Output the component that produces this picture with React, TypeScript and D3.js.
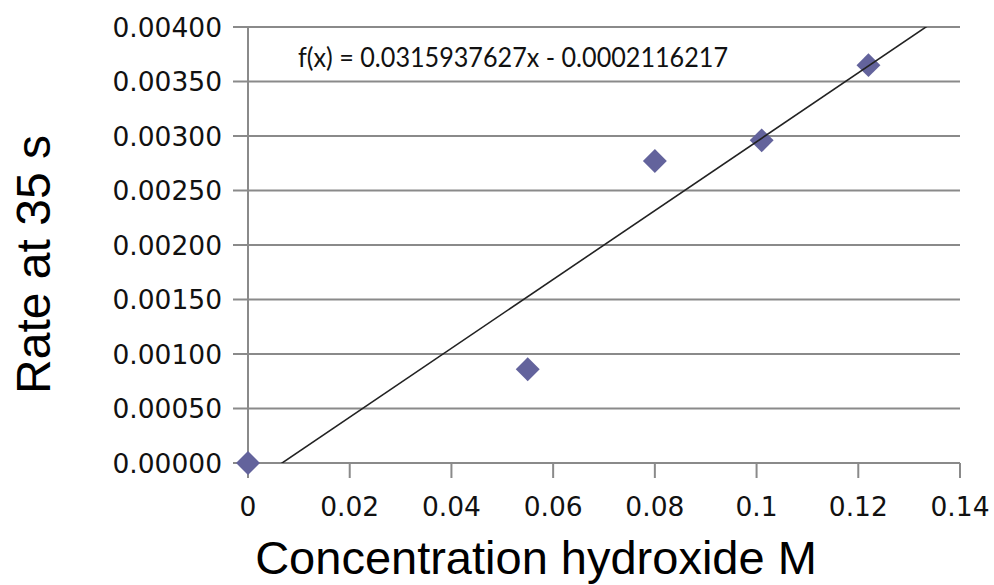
import React from "react";
import * as d3 from "d3";

const concentration = [0, 0.055, 0.08, 0.101, 0.122];
const rate = [0, 0.00086, 0.00277, 0.00296, 0.00365];
const xTicks = [0, 0.02, 0.04, 0.06, 0.08, 0.1, 0.12, 0.14];
const xTickLabels = ["0", "0.02", "0.04", "0.06", "0.08", "0.1", "0.12", "0.14"];
const yTicks = [0, 0.0005, 0.001, 0.0015, 0.002, 0.0025, 0.003, 0.0035, 0.004];
const yTickLabels = ["0.00000", "0.00050", "0.00100", "0.00150", "0.00200", "0.00250", "0.00300", "0.00350", "0.00400"];
const slope = 0.0315937627;
const intercept = -0.0002116217;
const equation = "f(x) = 0.0315937627x - 0.0002116217";

const width = 994;
const height = 585;
const margin = { top: 27, right: 34, bottom: 122, left: 248 };

export default function App() {
  const x = d3.scaleLinear().domain([0, 0.14]).range([margin.left, width - margin.right]);
  const y = d3.scaleLinear().domain([0, 0.004]).range([height - margin.bottom, margin.top]);
  const [x0, x1] = x.range();
  const [yBottom, yTop] = y.range();

  const trend = d3.line<number>()
    .x((d) => x(d))
    .y((d) => y(slope * d + intercept));

  const diamond = d3.symbol().type(d3.symbolDiamond2).size(2 * 13.5 * 13.5)();

  const grid = "#8a8a8a";
  const tickFont = "'DejaVu Sans', Verdana, sans-serif";

  return (
    <svg width={width} height={height} style={{ position: "absolute", left: 0, top: 0, background: "#fff" }}>
      <defs>
        <clipPath id="plot">
          <rect x={x0} y={yTop} width={x1 - x0} height={yBottom - yTop} />
        </clipPath>
      </defs>

      {/* horizontal gridlines with outer ticks */}
      {yTicks.map((t, i) => (
        <g key={i}>
          <line x1={x0 - 15} x2={x1} y1={y(t)} y2={y(t)} stroke={grid} strokeWidth={2} />
          <text x={222} y={y(t)} dy="0.36em" textAnchor="end" fontFamily={tickFont} fontSize={26.5} fill="#111">
            {yTickLabels[i]}
          </text>
        </g>
      ))}

      {/* y axis */}
      <line x1={x0} x2={x0} y1={yTop} y2={yBottom} stroke={grid} strokeWidth={2} />

      {/* x ticks */}
      {xTicks.map((t, i) => (
        <g key={i}>
          <line x1={x(t)} x2={x(t)} y1={yBottom} y2={yBottom + 15} stroke={grid} strokeWidth={2} />
          <text x={x(t)} y={516} textAnchor="middle" fontFamily={tickFont} fontSize={26.5} fill="#111">
            {xTickLabels[i]}
          </text>
        </g>
      ))}

      {/* points */}
      {concentration.map((c, i) => (
        <path key={i} d={diamond ?? ""} transform={`translate(${x(c)},${y(rate[i])})`} fill="#63639c" />
      ))}

      {/* linear trendline */}
      <path
        d={trend([0, 0.14]) ?? ""}
        clipPath="url(#plot)"
        fill="none"
        stroke="#222"
        strokeWidth={1.6}
      />

      <text
        x={298}
        y={67}
        fontFamily="Lato, 'Open Sans', sans-serif"
        fontSize={26}
        fill="#111"
        textLength={430}
        lengthAdjust="spacingAndGlyphs"
      >
        {equation}
      </text>

      <text
        transform="translate(50,264.5) rotate(-90)"
        textAnchor="middle"
        fontFamily="'Liberation Sans', Arial, sans-serif"
        fontSize={48}
        fill="#000"
      >
        Rate at 35 s
      </text>
      <text
        x={536}
        y={574}
        textAnchor="middle"
        fontFamily="'Liberation Sans', Arial, sans-serif"
        fontSize={47}
        fill="#000"
      >
        Concentration hydroxide M
      </text>
    </svg>
  );
}
